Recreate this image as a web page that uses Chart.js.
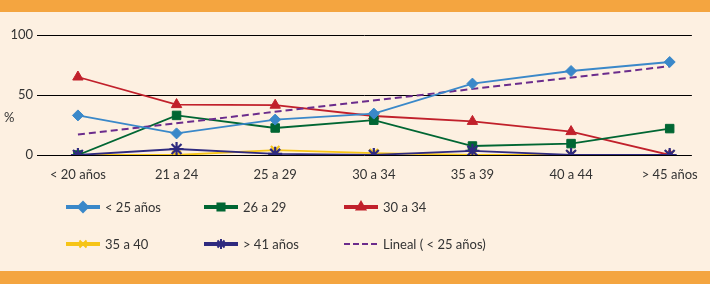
<!DOCTYPE html>
<html>
<head>
<meta charset="utf-8">
<script src="https://cdn.jsdelivr.net/npm/chart.js@4/dist/chart.umd.min.js"></script>
<style>
  html, body { margin: 0; padding: 0; }
  body { width: 710px; height: 284px; position: relative; overflow: hidden; background: #fdf0e1; }
  .band { position: absolute; left: 0; width: 710px; background: #f4a540; }
  #top { top: 0; height: 12px; }
  #bottom { top: 271px; height: 13px; }
  #wrap { position: absolute; left: 0; top: 0; width: 710px; height: 284px; }
</style>
</head>
<body>
<div class="band" id="top"></div>
<div class="band" id="bottom"></div>
<div id="wrap"><canvas id="myChart"></canvas></div>
<script>
// ============================================
// Data
// ============================================

const categories = ['< 20 años', '21 a 24', '25 a 29', '30 a 34', '35 a 39', '40 a 44', '> 45 años'];
const yTicks = [0, 50, 100];

const menos25 = [33, 18, 29.5, 34.5, 59.5, 70, 77.5];
const de26a29 = [0, 33, 22.5, 29, 7.5, 9.5, 22];
const de30a34 = [65, 42, 41.5, 32.5, 28, 19.5, 0];
const de35a40 = [0, 0, 4, 1.5, 0, 0, 0];
const mas41 = [0, 5, 1, 0, 3.5, 0, 0];
const linealX = [0, 6];
const linealY = [17, 74];

const FONT = 'Lato';
const TEXT = '#333333';

const toPoints = values => values.map((v, i) => ({ x: i, y: v }));

// ============================================
// Series styles (order: lower = drawn on top)
// ============================================

const series = [
  { label: '< 25 años', data: toPoints(menos25), color: '#3a88c9', style: 'rectRot', radius: 5.5, order: 1 },
  { label: '26 a 29', data: toPoints(de26a29), color: '#006633', style: 'rect', radius: 6, order: 3 },
  { label: '30 a 34', data: toPoints(de30a34), color: '#c1202b', style: 'triangle', radius: 6, order: 4 },
  { label: '35 a 40', data: toPoints(de35a40), color: '#f6c417', style: 'crossRot', radius: 6, order: 6 },
  { label: '> 41 años', data: toPoints(mas41), color: '#2f2a7f', style: 'star', radius: 7, order: 0 },
  { label: 'Lineal ( < 25 años)', data: linealX.map((x, i) => ({ x: x, y: linealY[i] })), color: '#6b2c8c', style: false, radius: 0, dash: [7, 4], order: 2 }
];

// ============================================
// Custom legend + "%" label
// ============================================

const extras = {
  id: 'extras',
  afterDraw(chart) {
    const ctx = chart.ctx;
    ctx.save();
    ctx.font = '13px ' + FONT;
    ctx.fillStyle = TEXT;
    ctx.textBaseline = 'middle';
    ctx.textAlign = 'left';
    ctx.fillText('%', 4, 118);

    const colX = [66, 204, 344];
    const rowY = [207, 244];
    series.forEach((s, i) => {
      const x = colX[i % 3];
      const y = rowY[Math.floor(i / 3)];
      ctx.strokeStyle = s.color;
      if (s.dash) {
        ctx.lineWidth = 2;
        ctx.setLineDash([6, 3]);
      } else {
        ctx.lineWidth = 4;
        ctx.setLineDash([]);
      }
      ctx.beginPath();
      ctx.moveTo(x, y);
      ctx.lineTo(x + 34, y);
      ctx.stroke();
      ctx.setLineDash([]);
      if (s.style) {
        ctx.fillStyle = s.color;
        ctx.strokeStyle = s.color;
        ctx.lineWidth = 2;
        Chart.helpers.drawPoint(ctx, { pointStyle: s.style, radius: 5, rotation: 0, borderWidth: 2 }, x + 17, y);
      }
      ctx.fillStyle = TEXT;
      ctx.fillText(s.label, x + 39, y + 1);
    });
    ctx.restore();
  }
};

// ============================================
// Chart
// ============================================

new Chart(document.getElementById('myChart'), {
  type: 'line',
  data: {
    datasets: series.map(s => ({
      label: s.label,
      data: s.data,
      order: s.order,
      borderColor: s.color,
      backgroundColor: s.color,
      borderWidth: s.dash ? 2 : 1.8,
      borderDash: s.dash || [],
      pointStyle: s.style,
      pointRadius: s.radius,
      pointBorderWidth: s.style === 'crossRot' || s.style === 'star' ? 2.2 : 1,
      pointHoverRadius: s.radius,
      fill: false,
      tension: 0
    }))
  },
  options: {
    responsive: true,
    maintainAspectRatio: false,
    animation: false,
    layout: { padding: { top: 35, right: 0, bottom: 99, left: 0 } },
    plugins: {
      legend: { display: false },
      tooltip: { enabled: false }
    },
    scales: {
      x: {
        type: 'linear',
        min: -0.415,
        max: 6.225,
        afterBuildTicks: scale => { scale.ticks = categories.map((c, i) => ({ value: i })); },
        afterFit: scale => { scale.height = 30; },
        grid: { display: false, drawTicks: false },
        border: { display: false },
        ticks: {
          padding: 12,
          maxRotation: 0,
          autoSkip: false,
          color: TEXT,
          font: { family: FONT, size: 13 },
          callback: v => categories[v]
        }
      },
      y: {
        min: 0,
        max: 100,
        afterBuildTicks: scale => { scale.ticks = yTicks.map(v => ({ value: v })); },
        afterFit: scale => { scale.width = 37; },
        grid: { color: '#000000', lineWidth: 1, drawTicks: false },
        border: { display: false },
        ticks: {
          padding: 4,
          color: TEXT,
          font: { family: FONT, size: 13 }
        }
      }
    }
  },
  plugins: [extras]
});
</script>
</body>
</html>
